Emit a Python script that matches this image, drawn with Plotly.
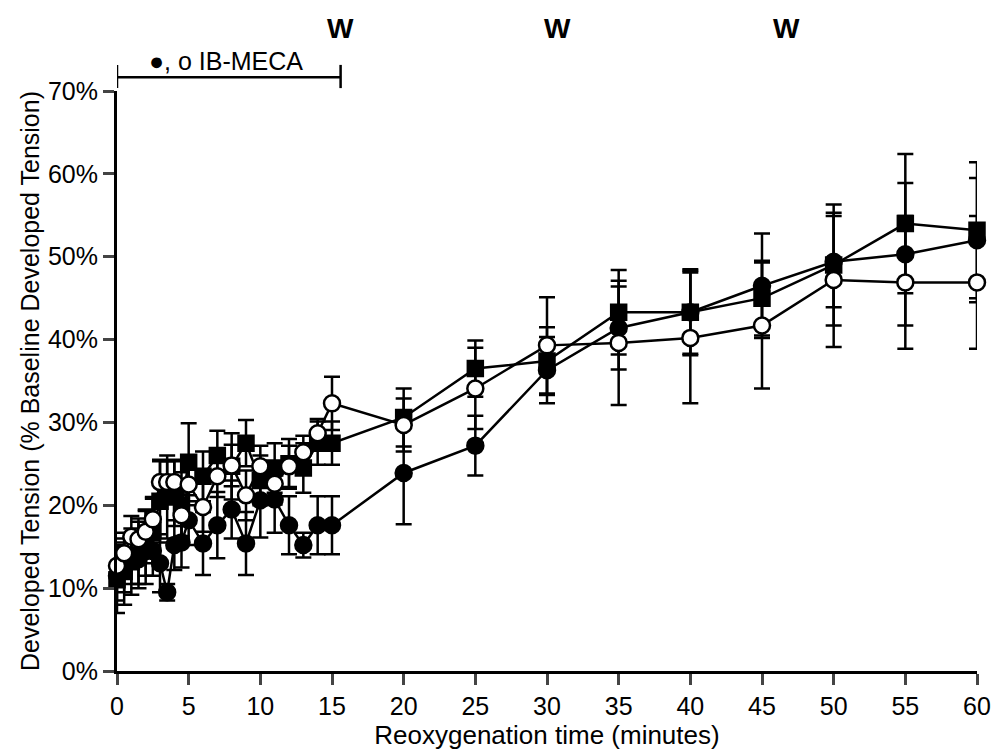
import plotly.graph_objects as go

times = [0, 0.5, 1, 1.5, 2, 2.5, 3, 3.5, 4, 4.5, 5, 6, 7, 8, 9, 10, 11, 12, 13, 14, 15,
         20, 25, 30, 35, 40, 45, 50, 55, 60]

square_vals = [11.0, 12.0, 13.2, 14.0, 15.0, 17.0, 20.5, 21.0, 21.5, 20.0, 25.2, 23.5, 26.0, 24.7, 27.5,
               23.0, 24.5, 25.0, 24.5, 27.5, 27.5, 30.6, 36.5, 37.4, 43.3, 43.3, 45.0, 49.0, 54.0, 53.2]
square_err = [4.0, 4.0, 4.0, 4.0, 4.5, 4.0, 5.0, 5.0, 4.0, 4.0, 4.7, 3.0, 3.0, 4.0, 2.8,
              3.0, 3.0, 3.0, 3.0, 2.6, 2.6, 3.5, 3.4, 4.1, 5.1, 5.2, 4.5, 7.3, 8.4, 8.2]

filled_vals = [11.5, 12.5, 13.5, 13.5, 14.5, 14.5, 13.0, 9.5, 15.2, 15.5, 18.2, 15.4, 17.6, 19.5, 15.4,
               20.6, 20.7, 17.6, 15.2, 17.6, 17.6, 23.9, 27.2, 36.3, 41.4, 43.3, 46.5, 49.4, 50.3, 52.0]
filled_err = [3.0, 3.0, 3.0, 3.0, 3.0, 3.0, 3.5, 1.0, 3.0, 3.0, 3.0, 3.8, 4.0, 3.5, 3.8,
              4.5, 4.0, 3.5, 1.5, 3.5, 3.5, 6.2, 3.6, 4.0, 5.0, 5.0, 6.3, 5.5, 8.6, 7.5]

open_vals = [12.7, 14.2, 16.2, 15.9, 16.8, 18.3, 22.8, 22.8, 22.8, 18.8, 22.5, 19.8, 23.5, 24.8, 21.2,
             24.7, 22.6, 24.7, 26.4, 28.7, 32.3, 29.7, 34.1, 39.3, 39.6, 40.2, 41.7, 47.2, 46.9, 46.9]
open_err = [2.5, 2.5, 2.5, 2.5, 2.5, 2.5, 2.5, 2.5, 2.5, 2.5, 2.5, 3.0, 2.5, 2.5, 3.0,
            2.5, 2.5, 2.5, 2.0, 1.7, 3.2, 3.2, 4.9, 5.8, 7.5, 7.9, 7.6, 8.1, 8.0, 8.0]

y_ticks = [0, 10, 20, 30, 40, 50, 60, 70]
y_tick_text = ["0%", "10%", "20%", "30%", "40%", "50%", "60%", "70%"]
x_ticks = [0, 5, 10, 15, 20, 25, 30, 35, 40, 45, 50, 55, 60]

washout_x = [15.6, 30.7, 46.7]
washout_text = ["W", "W", "W"]

FONT = "Liberation Sans, Arial, sans-serif"

fig = go.Figure()

def add_series(vals, errs, symbol, fill):
    fig.add_trace(go.Scatter(
        x=times, y=vals,
        mode="lines+markers",
        line=dict(color="black", width=2.5),
        marker=dict(symbol=symbol, size=16 if symbol == "circle" else 15,
                    color=fill, line=dict(color="black", width=2.5)),
        error_y=dict(type="data", array=errs, visible=True, color="black",
                     thickness=2.5, width=8),
        cliponaxis=False,
        showlegend=False,
    ))

add_series(square_vals, square_err, "square", "black")
add_series(filled_vals, filled_err, "circle", "black")
add_series(open_vals, open_err, "circle", "white")

# IB-MECA bracket
fig.add_shape(type="line", xref="x", yref="paper", x0=0, x1=15.6, y0=1.0239, y1=1.0239,
              line=dict(color="black", width=2.5))
for xv in [0, 15.6]:
    fig.add_shape(type="line", xref="x", yref="paper", x0=xv, x1=xv, y0=1.005, y1=1.045,
                  line=dict(color="black", width=2.5))
fig.add_annotation(x=7.6, xref="x", y=1.052, yref="paper", yanchor="middle",
                   text="\u25CF, o IB-MECA", showarrow=False,
                   font=dict(family=FONT, size=25, color="black"))

for xv, t in zip(washout_x, washout_text):
    fig.add_annotation(x=xv, xref="x", y=1.107, yref="paper", yanchor="middle",
                       text=f"<b>{t}</b>", showarrow=False,
                       font=dict(family=FONT, size=28, color="black"))

fig.update_layout(
    width=993, height=753,
    margin=dict(l=117, r=16, t=91, b=82),
    paper_bgcolor="white", plot_bgcolor="white",
    font=dict(family=FONT, size=24, color="black"),
    xaxis=dict(range=[0, 60], tickvals=x_ticks, ticks="outside", ticklen=11, tickwidth=2.5,
               showline=True, linewidth=3, linecolor="black", showgrid=False, zeroline=False,
               tickfont=dict(size=25), automargin=False,
               title=dict(text="Reoxygenation time (minutes)", font=dict(size=26), standoff=6)),
    yaxis=dict(range=[0, 70], tickvals=y_ticks, ticktext=y_tick_text, ticks="outside",
               ticklen=11, tickwidth=2.5,
               showline=True, linewidth=3, linecolor="black", showgrid=False, zeroline=False,
               tickfont=dict(size=25), automargin=False,
               title=dict(text="Developed Tension (% Baseline Developed Tension)",
                          font=dict(size=25), standoff=2)),
)

fig.write_html("out.html", config={"displayModeBar": False},
               post_script="document.body.style.margin='0';document.body.style.overflow='hidden';")
